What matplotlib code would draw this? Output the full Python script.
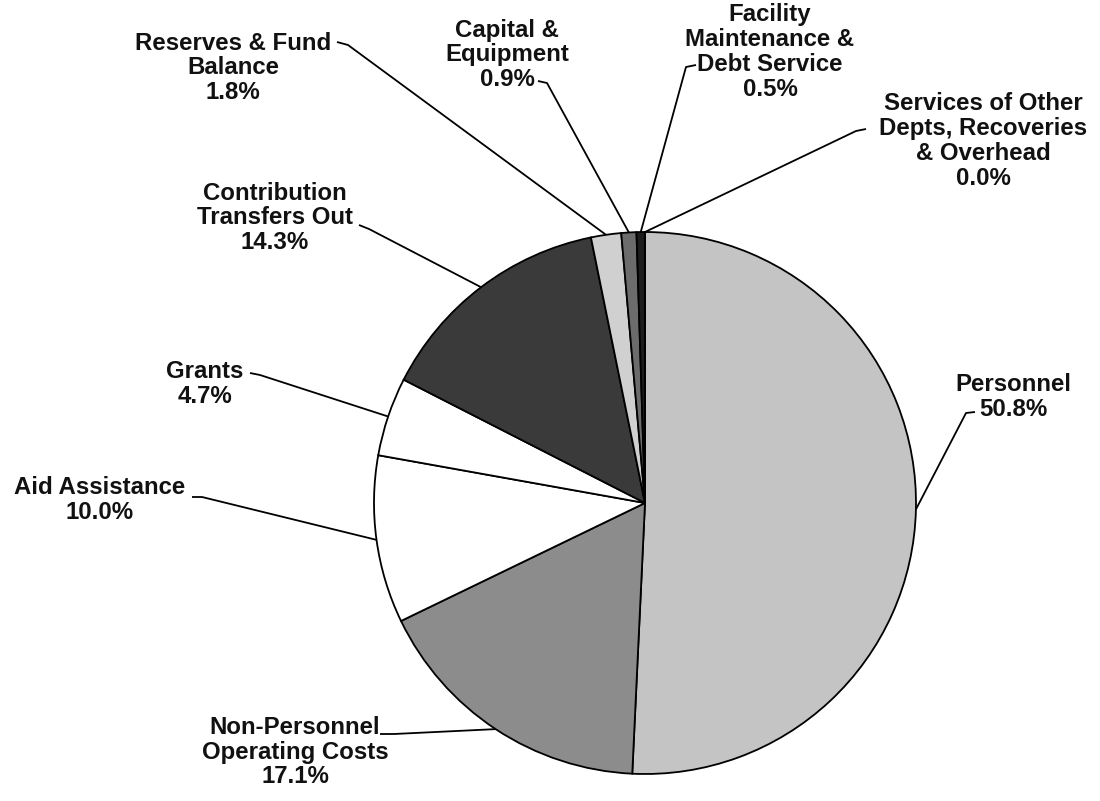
import matplotlib
matplotlib.use("Agg")
import matplotlib.pyplot as plt
import numpy as np

# ---- data ----
categories = ["Personnel", "Non-Personnel\nOperating Costs", "Aid Assistance", "Grants",
              "Contribution\nTransfers Out", "Reserves & Fund\nBalance", "Capital &\nEquipment",
              "Facility\nMaintenance &\nDebt Service", "Services of Other\nDepts, Recoveries\n& Overhead"]
values = [50.8, 17.1, 10.0, 4.7, 14.3, 1.8, 0.9, 0.5, 0.0]
colors = ["#c4c4c4", "#8c8c8c", "#ffffff", "#ffffff", "#3a3a3a", "#d0d0d0", "#6c6c6c", "#1c1c1c", "#bbbbbb"]

# ---- layout (pixel coords, y from top) ----
W, H = 1100, 801
center_px = (645, 503)
radius_px = 271
# label block centre, leader start, leader elbow
label_pos = [(1013, 397), (295, 752), (100, 500), (205, 384), (275, 218), (233, 68), (507, 55), (770, 52), (983, 141)]
leader_start = [(975, 412), (380, 734), (192, 497), (250, 373), (359, 225), (337, 42), (538, 81), (696, 65), (866, 129)]
leader_elbow = [(966, 413), (394, 734), (202, 497), (260, 375), (369, 229), (348, 45), (547, 83), (686, 67), (856, 131)]

def Y(y):
    return H - y

fig = plt.figure(figsize=(W / 100, H / 100), dpi=100)
ax = fig.add_axes([0, 0, 1, 1])
wedges, _ = ax.pie(values, colors=colors, startangle=90, counterclock=False,
                   center=(center_px[0], Y(center_px[1])), radius=radius_px,
                   wedgeprops=dict(edgecolor="black", linewidth=1.3))
ax.set_xlim(0, W)
ax.set_ylim(0, H)
ax.set_aspect("equal")
ax.axis("off")

for i, (w, cat, v) in enumerate(zip(wedges, categories, values)):
    mid = np.deg2rad((w.theta1 + w.theta2) / 2.0)
    ex = center_px[0] + radius_px * np.cos(mid)
    ey = Y(center_px[1]) + radius_px * np.sin(mid)
    sx, sy = leader_start[i]
    bx, by = leader_elbow[i]
    ax.plot([sx, bx, ex], [Y(sy), Y(by), ey], color="black", lw=1.3,
            solid_capstyle="butt", zorder=5)
    lx, ly = label_pos[i]
    ax.text(lx, Y(ly), f"{cat}\n{v:.1f}%", ha="center", va="center",
            multialignment="center", fontsize=17.3, fontweight="bold",
            family=["Liberation Sans", "DejaVu Sans"], linespacing=1.1, color="#111111")

fig.savefig("out.png", dpi=100)
